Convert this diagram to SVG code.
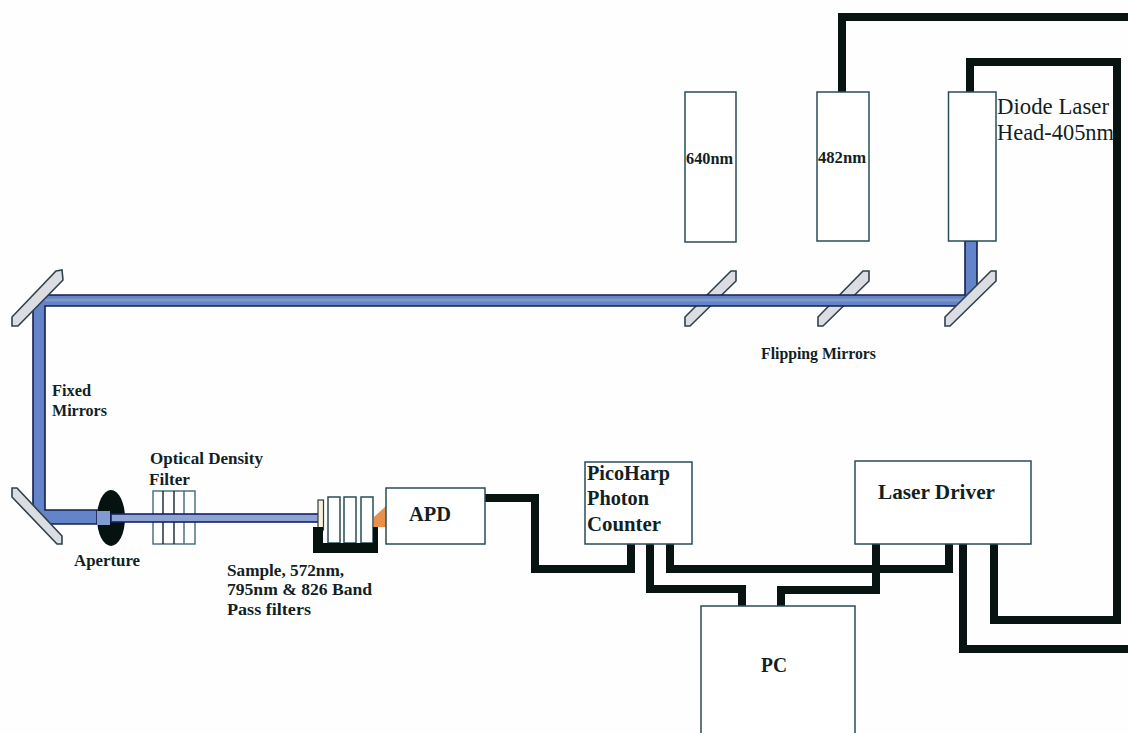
<svg xmlns="http://www.w3.org/2000/svg" width="1128" height="733" viewBox="0 0 1128 733">
<style>
text{font-family:"Liberation Serif","Times New Roman",serif;fill:#121f24;font-weight:bold}
.box{fill:#fff;stroke:#2a4c57;stroke-width:1.5}
.wire{fill:none;stroke:#071412;stroke-width:8}
.mirror{fill:#dcdde2;stroke:#2f414b;stroke-width:1.6}
.beam{fill:#6384c9;stroke:#141f4e;stroke-width:1.6}
.stripe{fill:none;stroke:#8197cc;stroke-width:3}
.filter{fill:none;stroke:#3d6a78;stroke-width:1.4}
.sm{font-size:16px}
.lg{font-size:21px}
.reg{font-size:23px;font-weight:normal}
</style>
<rect width="1128" height="733" fill="#fefefe"/>
<g id="mirrors-back">
<path class="mirror" d="M731 271H736V281L690 326H685V317Z"/>
<path class="mirror" d="M863 271H869V281L823 326H818V317Z"/>
</g>
<g id="beam">
<path class="beam" d="M965 241H977V296L965 306H45V510H97V524H40L33 513V302L39 295H965Z"/>
<path class="stripe" d="M45 300H965"/>
</g>
<g id="connectors">
<path class="wire" d="M842 92V17H1128"/>
<path class="wire" d="M970 92V62H1117V620H994V544"/>
<path class="wire" d="M1128 649H963V544"/>
<path class="wire" d="M485 498H535V569H631V544"/>
<path class="wire" d="M670 544V569H949V544"/>
<path class="wire" d="M650 544V589H742V606"/>
<path class="wire" d="M876 544V590H781V606"/>
</g>
<g id="head-640"><rect class="box" x="685" y="92" width="51" height="150"/><text class="sm" x="686" y="164" textLength="47" lengthAdjust="spacingAndGlyphs">640nm</text></g>
<g id="head-482"><rect class="box" x="817" y="92" width="52" height="149"/><text class="sm" x="818" y="163" textLength="48" lengthAdjust="spacingAndGlyphs">482nm</text></g>
<g id="head-405"><rect class="box" x="948.500" y="92" width="47.500" height="149"/></g>
<g id="label-405"><text class="reg" x="997" y="114" textLength="112" lengthAdjust="spacingAndGlyphs">Diode Laser</text><text class="reg" x="997" y="140" textLength="117" lengthAdjust="spacingAndGlyphs">Head-405nm</text></g>
<g id="mirrors">
<path class="mirror" d="M991 271H996V281L950 326H945V317Z"/>
<path class="mirror" d="M56 271L62 270L63 280L18 326H12V317Z"/>
<path class="mirror" d="M12 488H17L62 536V544H57L12 497Z"/>
</g>
<g id="aperture">
<ellipse cx="111" cy="518" rx="14" ry="28" fill="#06120f"/>
<rect x="97" y="511" width="13" height="14" fill="#7f9bd0"/>
</g>
<g id="od-filter">
<rect class="filter" x="153" y="491" width="42" height="53"/>
<path d="M163 491V544M174 491V544" stroke="#16242a" stroke-width="1.4"/>
<path d="M184 491V544" stroke="#3d6a78" stroke-width="1.4"/>
</g>
<g id="thin-beam"><rect x="111" y="514" width="208" height="8" fill="#8fa3d2" stroke="#141f6a" stroke-width="1.600"/></g>
<g id="sample-holder">
<rect x="318" y="500" width="5.500" height="30" fill="#f6f3da" stroke="#2c3a38" stroke-width="1.200"/>
<rect class="box" x="328" y="497" width="12" height="46"/>
<rect class="box" x="344" y="497" width="12" height="46"/>
<rect class="box" x="361" y="497" width="12" height="46"/>
<path d="M313 527H323V543H373V527H378V553H313Z" fill="#06120f"/>
</g>
<g id="apd">
<path d="M374 517L386 506V527H374Z" fill="#e8904a"/>
<rect class="box" x="386" y="488" width="99" height="56"/>
<text class="lg" x="409" y="521" textLength="42" lengthAdjust="spacingAndGlyphs">APD</text>
</g>
<g id="picoharp"><rect class="box" x="585" y="462" width="107" height="82"/>
<text class="lg" x="587" y="480" textLength="83" lengthAdjust="spacingAndGlyphs">PicoHarp</text><text class="lg" x="587" y="505" textLength="62" lengthAdjust="spacingAndGlyphs">Photon</text><text class="lg" x="587" y="531" textLength="74" lengthAdjust="spacingAndGlyphs">Counter</text></g>
<g id="laser-driver"><rect class="box" x="855" y="461" width="176" height="83"/><text class="lg" x="878" y="499" textLength="117" lengthAdjust="spacingAndGlyphs">Laser Driver</text></g>
<g id="pc"><rect class="box" x="701" y="606" width="154" height="132"/><text class="lg" x="761" y="672" textLength="26" lengthAdjust="spacingAndGlyphs">PC</text></g>
<g id="labels">
<text class="sm" x="761" y="359" textLength="115" lengthAdjust="spacingAndGlyphs">Flipping Mirrors</text>
<text class="sm" x="52" y="396" textLength="39" lengthAdjust="spacingAndGlyphs">Fixed</text>
<text class="sm" x="52" y="416" textLength="55" lengthAdjust="spacingAndGlyphs">Mirrors</text>
<text class="sm" x="150" y="464" textLength="113" lengthAdjust="spacingAndGlyphs">Optical Density</text>
<text class="sm" x="149" y="485" textLength="41" lengthAdjust="spacingAndGlyphs">Filter</text>
<text class="sm" x="74" y="566" textLength="66" lengthAdjust="spacingAndGlyphs">Aperture</text>
<text class="sm" x="227" y="576" textLength="117" lengthAdjust="spacingAndGlyphs">Sample, 572nm,</text>
<text class="sm" x="227" y="595" textLength="145" lengthAdjust="spacingAndGlyphs">795nm &amp; 826 Band</text>
<text class="sm" x="227" y="615" textLength="84" lengthAdjust="spacingAndGlyphs">Pass filters</text>
</g>
</svg>
